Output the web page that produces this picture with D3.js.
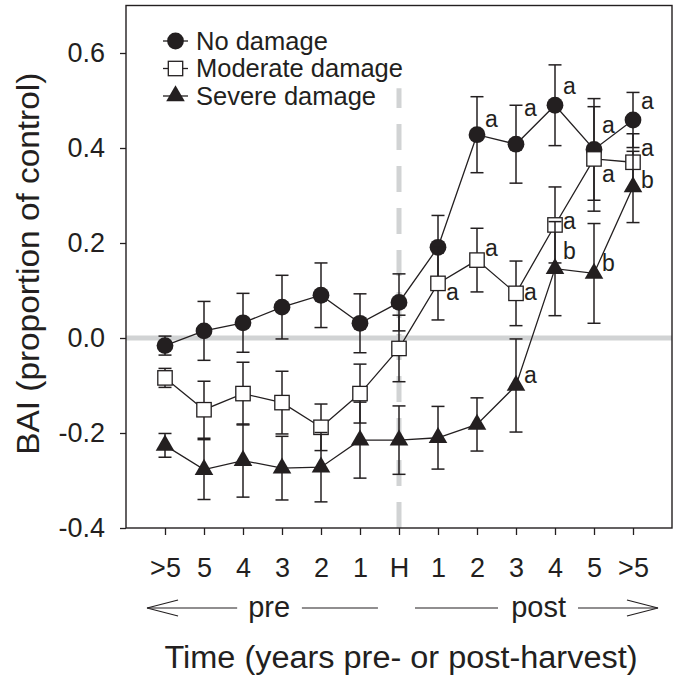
<!DOCTYPE html>
<html>
<head>
<meta charset="utf-8">
<script src="https://cdn.jsdelivr.net/npm/d3@7"></script>
<style>
  body { margin: 0; background: #fff; }
  text { font-family: "Liberation Sans", Arial, Helvetica, sans-serif; fill: #231f20; }
</style>
</head>
<body>
<div id="chart"></div>
<script>
// Categories (years pre / post harvest)
const xLabels = [">5", "5", "4", "3", "2", "1", "H", "1", "2", "3", "4", "5", ">5"];
const yTicks = [-0.4, -0.2, 0.0, 0.2, 0.4, 0.6];

// BAI as proportion of control, mean and standard error
const noDamage = [-0.016, 0.015, 0.032, 0.065, 0.09, 0.031, 0.075, 0.191, 0.428, 0.408, 0.49, 0.397, 0.459];
const noDamageSE = [0.02, 0.062, 0.062, 0.067, 0.068, 0.062, 0.06, 0.067, 0.08, 0.082, 0.085, 0.107, 0.058];

const moderate = [-0.084, -0.151, -0.117, -0.136, -0.188, -0.117, -0.022, 0.115, 0.164, 0.094, 0.238, 0.377, 0.37];
const moderateSE = [0.02, 0.06, 0.066, 0.066, 0.049, 0.062, 0.07, 0.077, 0.067, 0.068, 0.08, 0.11, 0.06];

const severe = [-0.226, -0.277, -0.258, -0.274, -0.272, -0.215, -0.215, -0.21, -0.182, -0.1, 0.146, 0.136, 0.318];
const severeSE = [0.025, 0.063, 0.077, 0.067, 0.073, 0.08, 0.072, 0.066, 0.056, 0.098, 0.099, 0.105, 0.075];

// Significance letters: category index, letter, value where the letter sits
const noDamageLetters = [[8, "a", 0.444], [9, "a", 0.468], [10, "a", 0.514], [11, "a", 0.432], [12, "a", 0.482]];
const moderateLetters = [[7, "a", 0.079], [8, "a", 0.173], [9, "a", 0.079], [10, "a", 0.229], [11, "a", 0.329], [12, "a", 0.384]];
const severeLetters = [[9, "a", -0.095], [10, "b", 0.166], [11, "b", 0.142], [12, "b", 0.316]];

const harvestLineTop = 0.526;

const colors = {
  ink: "#231f20",
  gray: "#d1d3d4",
  white: "#ffffff",
};

const width = 675,
  height = 677;
const margin = { top: 5.5, right: 3, bottom: 149, left: 126 };

const svg = d3
  .select("#chart")
  .append("svg")
  .attr("width", width)
  .attr("height", height);

const x = d3.scaleLinear().domain([-1, 13]).range([margin.left, width - margin.right]);
const y = d3.scaleLinear().domain([-0.4, 0.7]).range([height - margin.bottom, margin.top]);

// Reference lines
svg
  .append("line")
  .attr("x1", x(-1))
  .attr("x2", x(13))
  .attr("y1", y(0))
  .attr("y2", y(0))
  .attr("stroke", colors.gray)
  .attr("stroke-width", 5);

svg
  .append("line")
  .attr("x1", x(6))
  .attr("x2", x(6))
  .attr("y1", y(-0.4))
  .attr("y2", y(harvestLineTop))
  .attr("stroke", colors.gray)
  .attr("stroke-width", 5)
  .attr("stroke-dasharray", "26,16");

// Axes
const yAxis = svg
  .append("g")
  .attr("transform", `translate(${margin.left},0)`)
  .call(
    d3
      .axisLeft(y)
      .tickValues(yTicks)
      .tickFormat((d) => d.toFixed(1))
      .tickSize(6)
      .tickPadding(15),
  );

const xAxis = svg
  .append("g")
  .attr("transform", `translate(0,${y(-0.4)})`)
  .call(
    d3
      .axisBottom(x)
      .tickValues(d3.range(xLabels.length))
      .tickFormat((i) => xLabels[i])
      .tickSize(7)
      .tickPadding(23),
  );

[yAxis, xAxis].forEach((g) => {
  g.attr("font-family", null).attr("font-size", null);
  g.select(".domain").remove();
  g.selectAll(".tick line").attr("stroke", colors.ink).attr("stroke-width", 1.3);
  g.selectAll(".tick text").attr("font-size", 27).attr("fill", colors.ink);
});

// Frame
svg
  .append("rect")
  .attr("x", x(-1))
  .attr("y", y(0.7))
  .attr("width", x(13) - x(-1))
  .attr("height", y(-0.4) - y(0.7))
  .attr("fill", "none")
  .attr("stroke", colors.ink)
  .attr("stroke-width", 1.4);

// Markers
function drawMarker(g, type, cx, cy) {
  if (type === "circle") {
    g.append("circle").attr("cx", cx).attr("cy", cy).attr("r", 8.4).attr("fill", colors.ink);
  } else if (type === "square") {
    g.append("rect")
      .attr("x", cx - 7.2)
      .attr("y", cy - 7.2)
      .attr("width", 14.4)
      .attr("height", 14.4)
      .attr("fill", colors.white)
      .attr("stroke", colors.ink)
      .attr("stroke-width", 1.3);
  } else {
    g.append("path")
      .attr("d", d3.symbol(d3.symbolTriangle, 150)())
      .attr("transform", `translate(${cx},${cy})`)
      .attr("fill", colors.ink);
  }
}

const series = [
  { name: "No damage", mean: noDamage, se: noDamageSE, symbol: "circle", letters: noDamageLetters },
  { name: "Moderate damage", mean: moderate, se: moderateSE, symbol: "square", letters: moderateLetters },
  { name: "Severe damage", mean: severe, se: severeSE, symbol: "triangle", letters: severeLetters },
];

const line = d3
  .line()
  .x((d, i) => x(i))
  .y((d) => y(d));

const cap = 6.5;

series.forEach((s) => {
  const g = svg.append("g");

  // Error bars
  s.mean.forEach((m, i) => {
    const top = y(m + s.se[i]),
      bottom = y(m - s.se[i]);
    const eb = g.append("g").attr("stroke", colors.ink).attr("stroke-width", 1.5);
    eb.append("line").attr("x1", x(i)).attr("x2", x(i)).attr("y1", top).attr("y2", bottom);
    eb.append("line").attr("x1", x(i) - cap).attr("x2", x(i) + cap).attr("y1", top).attr("y2", top);
    eb.append("line").attr("x1", x(i) - cap).attr("x2", x(i) + cap).attr("y1", bottom).attr("y2", bottom);
  });

  // Connecting line
  g.append("path")
    .datum(s.mean)
    .attr("d", line)
    .attr("fill", "none")
    .attr("stroke", colors.ink)
    .attr("stroke-width", 1.3);

  s.mean.forEach((m, i) => drawMarker(g, s.symbol, x(i), y(m)));
});

// Letters drawn last so they sit above everything
series.forEach((s) => {
  svg
    .append("g")
    .selectAll("text")
    .data(s.letters)
    .join("text")
    .attr("x", (d) => x(d[0]) + 8)
    .attr("y", (d) => y(d[2]))
    .attr("font-size", 23)
    .text((d) => d[1]);
});

// Legend
const legend = svg.append("g").attr("transform", "translate(163,41)");
series.forEach((s, i) => {
  const row = legend.append("g").attr("transform", `translate(0,${i * 27.5})`);
  row.append("line").attr("x1", 0).attr("x2", 25).attr("stroke", colors.ink).attr("stroke-width", 1.3);
  drawMarker(row, s.symbol, 12.5, 0);
  row.append("text").attr("x", 33).attr("dy", "0.34em").attr("font-size", 25.5).text(s.name);
});

// Pre / post arrows under the axis
const arrowY = 608;
const arrows = svg.append("g").attr("stroke", colors.ink).attr("stroke-width", 1.2).attr("fill", "none");
arrows.append("line").attr("x1", x(-0.46)).attr("x2", x(1.85)).attr("y1", arrowY).attr("y2", arrowY);
arrows.append("path").attr("d", `M${x(-0.46) + 31},${arrowY - 8}L${x(-0.46)},${arrowY}L${x(-0.46) + 31},${arrowY + 8}`);
arrows.append("line").attr("x1", x(3.51)).attr("x2", x(5.46)).attr("y1", arrowY).attr("y2", arrowY);
arrows.append("line").attr("x1", x(6.41)).attr("x2", x(8.54)).attr("y1", arrowY).attr("y2", arrowY);
arrows.append("line").attr("x1", x(10.59)).attr("x2", x(12.64)).attr("y1", arrowY).attr("y2", arrowY);
arrows.append("path").attr("d", `M${x(12.64) - 31},${arrowY - 8}L${x(12.64)},${arrowY}L${x(12.64) - 31},${arrowY + 8}`);

svg.append("text").attr("x", x(2.67)).attr("y", 617).attr("text-anchor", "middle").attr("font-size", 29).text("pre");
svg.append("text").attr("x", x(9.58)).attr("y", 617).attr("text-anchor", "middle").attr("font-size", 29).text("post");

// Axis titles
svg
  .append("text")
  .attr("x", (x(-1) + x(13)) / 2 + 2)
  .attr("y", 668)
  .attr("text-anchor", "middle")
  .attr("font-size", 31)
  .attr("textLength", 473)
  .attr("lengthAdjust", "spacingAndGlyphs")
  .text("Time (years pre- or post-harvest)");

svg
  .append("text")
  .attr("transform", `translate(39,${(y(-0.4) + y(0.7)) / 2 - 3}) rotate(-90)`)
  .attr("text-anchor", "middle")
  .attr("font-size", 31)
  .attr("textLength", 382)
  .attr("lengthAdjust", "spacingAndGlyphs")
  .text("BAI (proportion of control)");
</script>
</body>
</html>
